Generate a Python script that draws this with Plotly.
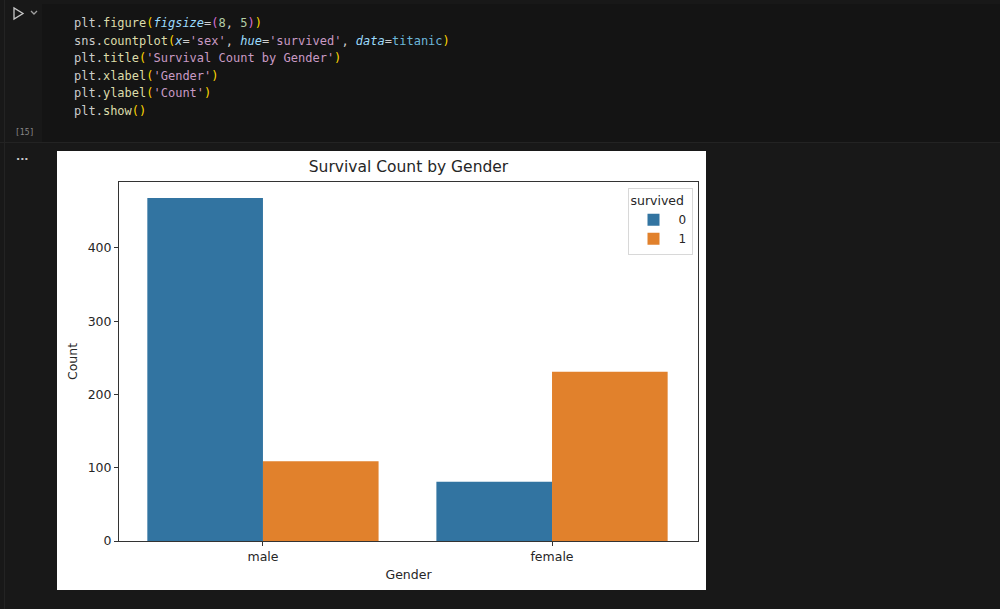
import plotly.graph_objects as go

categories = ["male", "female"]
survived_0 = [468, 81]
survived_1 = [109, 231]
series_names = ["0", "1"]
y_ticks = [0, 100, 200, 300, 400]

W, H = 1000, 609
L, R, T, B = 119, 698, 182, 541
def px(x): return (x - L) / (R - L)
def py(y): return (B - y) / (B - T)

WHITE = "#cccccc"; FUNC = "#dcdcaa"; GOLD = "#ffd700"; PINK = "#da70d6"
ARG = "#9cdcfe"; NUM = "#b5cea8"; STR = "#c99ac4"; TEAL = "#6cb6d9"
def s(t, c, it=False):
    body = f"<i>{t}</i>" if it else t
    return f'<span style="color:{c}">{body}</span>'

code_lines = [
    s("plt.", WHITE) + s("figure", FUNC) + s("(", GOLD) + s("figsize", ARG, True) + s("=", WHITE) + s("(", PINK) + s("8", NUM) + s(", ", WHITE) + s("5", NUM) + s(")", PINK) + s(")", GOLD),
    s("sns.", WHITE) + s("countplot", FUNC) + s("(", GOLD) + s("x", ARG, True) + s("=", WHITE) + s("'sex'", STR) + s(", ", WHITE) + s("hue", ARG, True) + s("=", WHITE) + s("'survived'", STR) + s(", ", WHITE) + s("data", ARG, True) + s("=", WHITE) + s("titanic", TEAL) + s(")", GOLD),
    s("plt.", WHITE) + s("title", FUNC) + s("(", GOLD) + s("'Survival Count by Gender'", STR) + s(")", GOLD),
    s("plt.", WHITE) + s("xlabel", FUNC) + s("(", GOLD) + s("'Gender'", STR) + s(")", GOLD),
    s("plt.", WHITE) + s("ylabel", FUNC) + s("(", GOLD) + s("'Count'", STR) + s(")", GOLD),
    s("plt.", WHITE) + s("show", FUNC) + s("()", GOLD),
]
code_y = [23, 41, 58, 76, 93, 111]

TXT = "#262626"
FONT = "DejaVu Sans"

fig = go.Figure()
fig.add_bar(x=categories, y=survived_0, name=series_names[0], marker=dict(color="#3274a1", line_width=0))
fig.add_bar(x=categories, y=survived_1, name=series_names[1], marker=dict(color="#e1812c", line_width=0))

annotations = []
for line, y in zip(code_lines, code_y):
    annotations.append(dict(text=line, xref="paper", yref="paper", x=px(72), y=py(y), xanchor="left",
                            yanchor="middle", showarrow=False, align="left",
                            font=dict(family="DejaVu Sans Mono", size=12, color=WHITE)))
annotations.append(dict(text="[15]", xref="paper", yref="paper", x=px(25), y=py(132), xanchor="center",
                        yanchor="middle", showarrow=False, font=dict(family="DejaVu Sans Mono", size=8, color="#8a8a8a")))
annotations.append(dict(text="<b>...</b>", xref="paper", yref="paper", x=px(22), y=py(157), xanchor="center",
                        yanchor="middle", showarrow=False, font=dict(family="DejaVu Sans", size=11, color="#c8c8c8")))

def rect(x0, y0, x1, y1, color):
    return dict(type="rect", xref="paper", yref="paper", x0=px(x0), x1=px(x1), y0=py(y0), y1=py(y1),
                fillcolor=color, line_width=0, layer="below")
def path(pts, color, close=False):
    d = "M" + " L".join(f"{px(a):.5f},{py(b):.5f}" for a, b in pts) + (" Z" if close else "")
    return dict(type="path", xref="paper", yref="paper", path=d, line=dict(color=color, width=1.3), layer="above")

shapes = [
    rect(0, 0, 1000, 609, "#181818"),
    rect(42, 4, 1000, 142, "#141414"),
    rect(0, 142, 1000, 143, "#232323"),
    rect(4, 0, 5, 609, "#232323"),
    rect(57, 151, 706, 590, "#ffffff"),
    path([(14, 8), (14, 19), (23, 13.5)], "#c8c8c8", True),
    path([(31, 11), (34, 14), (37, 11)], "#a0a0a0"),
]

fig.update_layout(
    width=W, height=H, autosize=False,
    margin=dict(l=L, r=W - R, t=T, b=H - B, pad=0),
    paper_bgcolor="#181818", plot_bgcolor="#ffffff",
    barmode="group", bargap=0.2, bargroupgap=0,
    font=dict(family=FONT, size=13, color=TXT),
    title=dict(text="Survival Count by Gender", x=(L + R) / 2 / W, xanchor="center",
               y=1 - 167 / H, yanchor="middle", font=dict(size=15.5, color=TXT)),
    xaxis=dict(title=dict(text="Gender", font=dict(size=12.5, color=TXT), standoff=7),
               range=[-0.498, 1.505], ticks="outside", ticklen=4, tickcolor="#333333",
               showline=True, linecolor="#333333", linewidth=1, mirror=True, showgrid=False,
               tickfont=dict(size=12.5, color=TXT)),
    yaxis=dict(title=dict(text="Count", font=dict(size=12.5, color=TXT), standoff=7),
               range=[0, 490], tickvals=y_ticks, ticks="outside", ticklen=4, tickcolor="#333333",
               showline=True, linecolor="#333333", linewidth=1, mirror=True, showgrid=False,
               zeroline=False, tickfont=dict(size=12.5, color=TXT)),
    legend=dict(title=dict(text="survived", font=dict(size=12.5, color=TXT)),
                x=px(692.5), xanchor="right", y=py(188), yanchor="top",
                bgcolor="rgba(255,255,255,0.9)", bordercolor="#d8d8d8", borderwidth=1,
                font=dict(size=12, color=TXT), itemwidth=40, traceorder="normal"),
    shapes=shapes, annotations=annotations,
)
fig.write_html("out.html", config=dict(displayModeBar=False),
               post_script="document.body.style.margin='0';document.body.style.background='#181818';document.body.style.overflow='hidden';")
